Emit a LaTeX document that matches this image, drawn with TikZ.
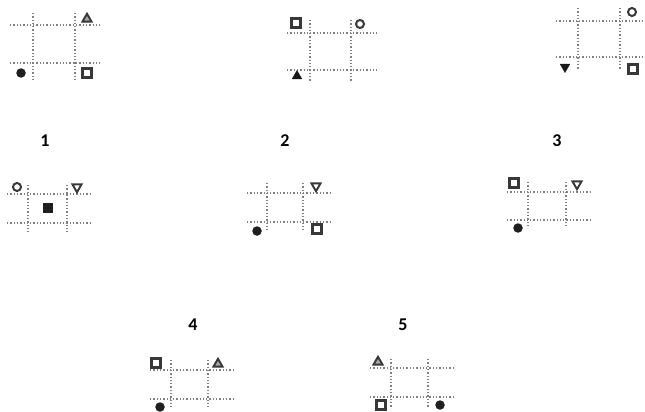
\documentclass[tikz,border=0pt]{standalone}
\usepackage{fontspec}
\setmainfont{Carlito}
\usetikzlibrary{shapes.geometric}
\tikzset{
  gl/.style={draw=black!50, dotted, line width=1.3pt},
  fcirc/.style={circle, fill=black!88, minimum size=9.5pt, inner sep=0pt},
  ocirc/.style={circle, draw=black!78, line width=2pt, minimum size=8pt, inner sep=0pt},
  osq/.style={rectangle, draw=black!78, line width=2.2pt, minimum size=9pt, inner sep=0pt},
  fsq/.style={rectangle, fill=black!88, minimum size=10pt, inner sep=0pt},
  ftri/.style={regular polygon, regular polygon sides=3, fill=black!90, minimum size=12pt, inner sep=0pt},
  otri/.style={regular polygon, regular polygon sides=3, draw=black!78, fill=black!35, line width=1.9pt, minimum size=10.5pt, inner sep=0pt},
  ftrid/.style={ftri, shape border rotate=180},
  otrid/.style={otri, fill=white, shape border rotate=180},
  lab/.style={font=\bfseries\fontsize{18}{18}\selectfont, inner sep=0pt}
}
\newcommand{\mygrid}[8]{%
  \draw[gl] (#1,#5) -- (#2,#5);
  \draw[gl] (#1,#6) -- (#2,#6);
  \draw[gl] (#3,#7) -- (#3,#8);
  \draw[gl] (#4,#7) -- (#4,#8);
}
\begin{document}
\begin{tikzpicture}[x=1pt,y=-1pt]
\useasboundingbox (0,0) rectangle (645,412);
% figure 1
\mygrid{10}{100}{33}{75}{25}{63}{13}{80}
\node[otri] (a1) at (87,19) {};
\node[fcirc] (a2) at (21,73) {};
\node[osq] (a3) at (87,73) {};
% figure 2
\mygrid{287}{378}{310}{351}{33}{70}{20}{82}
\node[osq] (b1) at (296,23) {};
\node[ocirc] (b2) at (360,24) {};
\node[ftri] (b3) at (297,76) {};
% figure 3
\mygrid{556}{642}{578}{620}{21}{57}{8}{70}
\node[ocirc] (c1) at (632,12) {};
\node[ftrid] (c2) at (565,67) {};
\node[osq] (c3) at (633,69) {};
% figure 4
\mygrid{7}{90}{28}{67}{194}{223}{185}{232}
\node[ocirc] (d1) at (17,187) {};
\node[otrid] (d2) at (77,187) {};
\node[fsq] (d3) at (48,208) {};
% figure 5
\mygrid{247}{330}{267}{303}{193}{222}{183}{230}
\node[otrid] (e1) at (316,186) {};
\node[fcirc] (e2) at (257,231) {};
\node[osq] (e3) at (317,229) {};
% figure 6
\mygrid{507}{590}{528}{566}{192}{220}{182}{228}
\node[osq] (f1) at (514,183) {};
\node[otrid] (f2) at (577,184) {};
\node[fcirc] (f3) at (518,228) {};
% figure 7
\mygrid{150}{233}{171}{208}{370}{399}{360}{407}
\node[osq] (g1) at (156,363) {};
\node[otri] (g2) at (218,364) {};
\node[fcirc] (g3) at (160,407) {};
% figure 8
\mygrid{370}{453}{391}{428}{368}{397}{359}{407}
\node[otri] (h1) at (378,362) {};
\node[osq] (h2) at (381,405) {};
\node[fcirc] (h3) at (440,405) {};
% labels
\node[lab] (l1) at (45,141) {1};
\node[lab] (l2) at (285,141) {2};
\node[lab] (l3) at (557,141) {3};
\node[lab] (l4) at (193,325) {4};
\node[lab] (l5) at (403,325) {5};
\end{tikzpicture}
\end{document}
